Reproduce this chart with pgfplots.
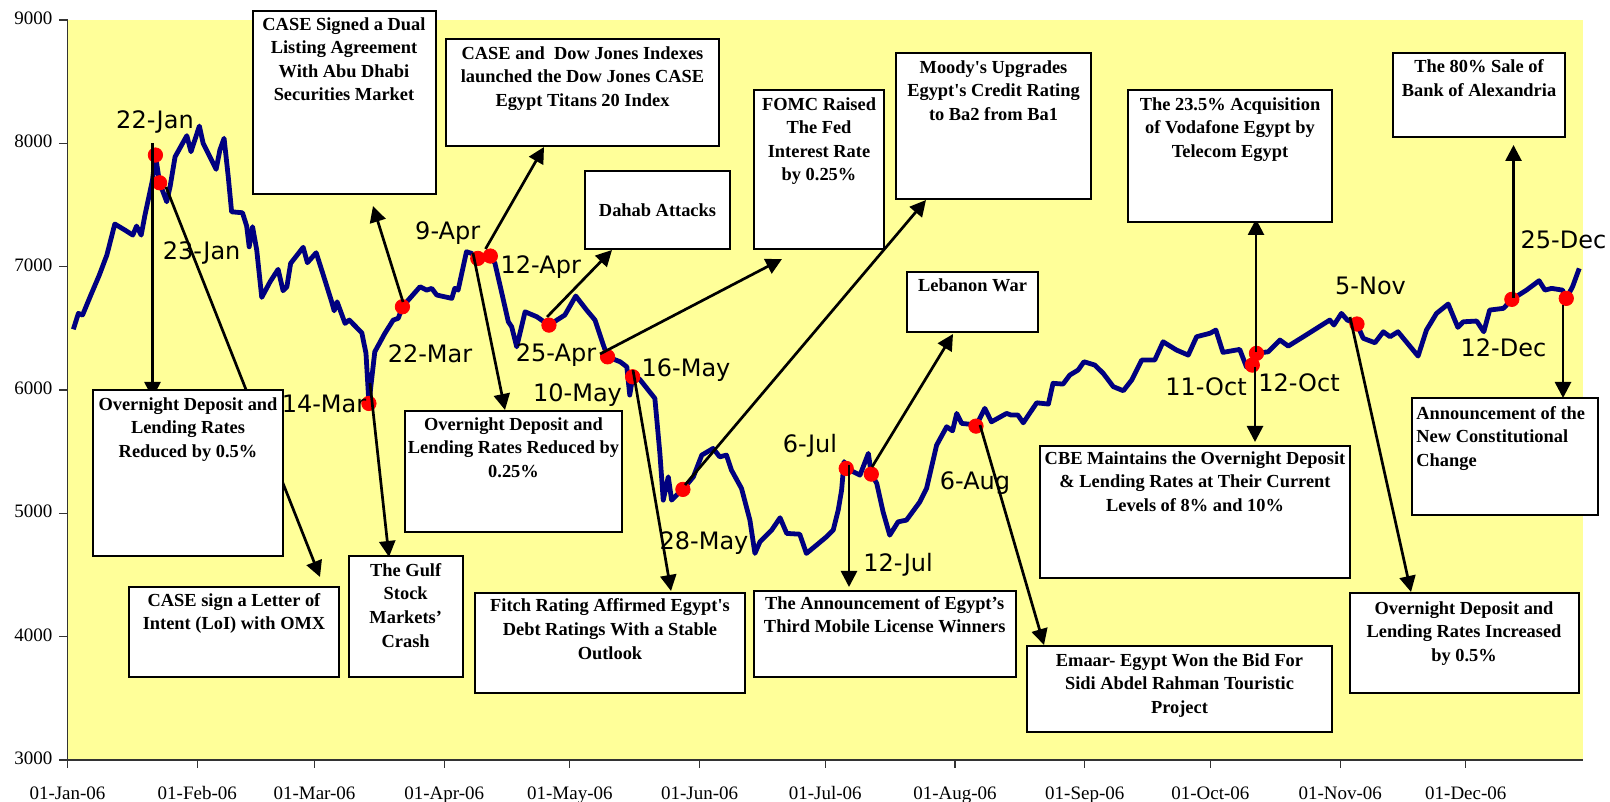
\documentclass[border=0pt]{standalone}
\usepackage{fontspec}
\setmainfont{Liberation Serif}
\newfontfamily\lblfont{DejaVu Sans}
\usepackage{pgfplots}
\pgfplotsset{compat=1.18}
\usetikzlibrary{arrows.meta}
\definecolor{chartbg}{HTML}{FFFF99}
\definecolor{navyline}{HTML}{000080}
\newcommand{\q}{\textquotesingle}

\begin{document}
\begin{tikzpicture}[
  ev/.style={-{Triangle[length=8pt,width=8pt]}, line width=1.35pt},
  box/.style={draw=black, line width=1pt, fill=white},
  btxt/.style={font=\fontsize{9.2}{11.8}\selectfont\bfseries, align=center, anchor=north, inner sep=0pt},
  dlab/.style={font=\lblfont\fontsize{12}{14}\selectfont, anchor=base, inner sep=0pt}
]
% x = days since 1 Jan 2006, y = index level
\begin{axis}[
  at={(33.75pt,21pt)}, anchor=south west,
  scale only axis, width=757.75pt, height=370pt,
  xmin=0, xmax=362, ymin=3000, ymax=9000,
  axis x line*=bottom, axis y line*=left,
  axis line style={-, line width=0.6pt, black!80},
  axis background/.style={fill=chartbg},
  xtick={0,31,59,90,120,151,181,212,243,273,304,334},
  xticklabels={01-Jan-06,01-Feb-06,01-Mar-06,01-Apr-06,01-May-06,01-Jun-06,01-Jul-06,01-Aug-06,01-Sep-06,01-Oct-06,01-Nov-06,01-Dec-06},
  ytick={3000,4000,5000,6000,7000,8000,9000},
  tick align=outside, major tick length=4pt,
  tick style={line width=0.6pt, black!80},
  ticklabel style={font=\fontsize{9.5}{11}\selectfont},
  typeset ticklabels with strut,
  xticklabel style={yshift=-4.7pt},
  /pgf/number format/assume math mode=true,
  /pgf/number format/1000 sep={},
]
\addplot[navyline, line width=2.4pt, line join=round] coordinates {
(1.4,6492) (2.6,6621) (3.6,6608) (5.4,6756) (7.6,6932) (9.4,7094) (11.3,7346)
(13.7,7297) (15.6,7256) (16.5,7329) (17.6,7256) (18.5,7418) (20.3,7702) (21,7905)
(22,7680) (23.7,7526) (24.5,7648) (25.7,7891) (28.5,8062) (29.5,7932) (31.5,8140)
(32.4,8000) (35.5,7789) (36.4,7946) (37.4,8041) (38.4,7729) (39.2,7445) (41.8,7437)
(42.8,7329) (43.4,7161) (44.2,7324) (45.2,7135) (46.4,6751) (48.4,6878) (50.3,6978)
(51.5,6805) (52.4,6837) (53.3,7027) (56.3,7157) (57.3,7032) (59.4,7113) (61.1,6932)
(63.1,6715) (63.7,6642) (64.4,6715) (66.3,6540) (67.3,6567) (70.3,6464) (71.3,6297)
(72,5891) (73.4,6310) (75.8,6459) (77.8,6567) (79,6581) (80,6675) (84.2,6837)
(85.8,6810) (87,6824) (88.2,6770) (91.8,6743) (92.5,6824) (93.3,6810) (95.3,7121)
(96.5,7108) (98,7067) (101,7086) (102.1,7027) (103.3,6851) (105.3,6553) (106.1,6513)
(107.3,6350) (109.3,6634) (112.1,6594) (115,6526) (118.8,6608) (121.4,6762) (124,6648)
(126,6567) (128,6364) (129,6269) (132,6229) (133.6,6188) (134.3,5959) (135,6107)
(136.7,6086) (140.3,5932) (141.5,5486) (142.3,5107) (143.5,5296) (144.3,5107) (145.9,5161)
(147,5194) (149.5,5296) (151.5,5472) (154.2,5526) (155.8,5458) (157.4,5472) (158.6,5350)
(161,5202) (163,4945) (164.2,4675) (165.4,4769) (168.2,4864) (170.2,4964) (171.8,4837)
(174.9,4831) (176.5,4675) (178.9,4742) (181.3,4810) (182.9,4864) (184.1,5026) (184.9,5188)
(185.5,5420) (186,5364) (187.7,5337) (189.3,5310) (191.3,5486) (192,5318) (193.3,5243)
(194.8,5013) (196.4,4823) (198.4,4931) (200.4,4945) (203.6,5093) (205.2,5202) (207.6,5553)
(210,5702) (211.4,5669) (212.4,5810) (213.6,5729) (216,5721) (217,5707) (219.1,5851)
(220.7,5742) (224.3,5810) (225.4,5797) (227,5797) (228.3,5734) (231.5,5896) (234.3,5886)
(235.4,6054) (237.8,6048) (239.4,6121) (241.4,6162) (242.8,6229) (245.4,6202) (247.4,6135)
(249.8,6027) (252.2,5994) (254.2,6081) (256.6,6243) (259.7,6243) (261.7,6391) (264.9,6324)
(267.7,6283) (269.7,6432) (272.9,6460) (274.3,6486) (276,6305) (280,6329) (281.6,6188)
(283,6202) (284,6297) (286.8,6310) (289.6,6405) (291.6,6356) (295.2,6432) (301.5,6567)
(302.5,6527) (304.3,6621) (305.7,6567) (308,6535) (309.5,6419) (312.3,6383) (314.3,6472)
(315.9,6432) (317.8,6472) (322.6,6275) (324.6,6486) (327,6621) (329.8,6697) (332.1,6508)
(333.4,6553) (336.6,6559) (338.3,6472) (339.7,6648) (343,6662) (345,6735) (348.5,6810)
(351.5,6886) (352.9,6810) (354.5,6824) (357.1,6810) (358,6743) (359.5,6837) (361.1,6986)
};
% event days
\addplot[only marks, mark=*, mark size=3.6pt, color=red] coordinates {
(21,7905) (22,7680) (72,5891) (80,6675) (98,7067) (101,7086) (115,6526)
(129,6269) (135,6107) (147,5194) (186,5364) (192,5318) (217,5707)
(283,6202) (284,6297) (308,6535) (345,6735) (358,6743)
};
\end{axis}

% annotations, in pixels of the 1610x802 picture
\begin{scope}[x=0.5pt, y=-0.5pt, shift={(0pt,401pt)}]
\draw[ev] (152.5,143) -- (152.5,398);
\draw[ev] (166,187) -- (320,577);
\draw[ev] (370,383) -- (389,557);
\draw[ev] (403,302) -- (373,206);
\draw[ev] (473,253) -- (505,410);
\draw[ev] (485.5,249) -- (544,147);
\draw[ev] (547,317) -- (612,250);
\draw[ev] (600,354) -- (782,259);
\draw[ev] (633,370) -- (671,591);
\draw[ev] (685,485) -- (926,200);
\draw[ev] (849,465) -- (849,587);
\draw[ev] (872,467) -- (953,334);
\draw[ev] (980,425) -- (1044,645);
\draw[ev] (1255,367) -- (1255,442);
\draw[ev] (1256,352) -- (1256,219);
\draw[ev] (1350,317) -- (1411,592);
\draw[ev] (1513.5,298) -- (1513.5,145);
\draw[ev] (1563,305) -- (1563,398);

\draw[box] (253,11) rectangle (435.5,194);
\node[btxt] at (344,17) {CASE Signed a Dual\\Listing Agreement\\With Abu Dhabi\\Securities Market};
\draw[box] (446,39.5) rectangle (719,146);
\node[btxt] at (582.5,46) {CASE and\ \ Dow Jones Indexes\\launched the Dow Jones CASE\\Egypt Titans 20 Index};
\draw[box] (585,171) rectangle (730,249);
\node[btxt] at (657.5,203) {Dahab Attacks};
\draw[box] (754,90) rectangle (884,249);
\node[btxt] at (819,97) {FOMC Raised\\The Fed\\Interest Rate\\by 0.25\%};
\draw[box] (896,53) rectangle (1091,199);
\node[btxt] at (993.5,60) {Moody\q s Upgrades\\Egypt\q s Credit Rating\\to Ba2 from Ba1};
\draw[box] (907,272) rectangle (1038,332);
\node[btxt] at (972.5,278.5) {Lebanon War};
\draw[box] (1128,90) rectangle (1332,222);
\node[btxt] at (1230,97) {The 23.5\% Acquisition\\of Vodafone Egypt by\\Telecom Egypt};
\draw[box] (1393,53) rectangle (1565,137);
\node[btxt] at (1479,59.5) {The 80\% Sale of\\Bank of Alexandria};
\draw[box] (93,390) rectangle (283,556);
\node[btxt] at (188,397) {Overnight Deposit and\\Lending Rates\\Reduced by 0.5\%};
\draw[box] (129,587) rectangle (339,677);
\node[btxt] at (234,593) {CASE sign a Letter of\\Intent (LoI) with OMX};
\draw[box] (349,556) rectangle (462.5,677);
\node[btxt] at (405.7,563) {The Gulf\\Stock\\Markets’\\Crash};
\draw[box] (405,411) rectangle (622,532);
\node[btxt] at (513.5,417) {Overnight Deposit and\\Lending Rates Reduced by\\0.25\%};
\draw[box] (474.5,593) rectangle (745,693);
\node[btxt] at (610,598.5) {Fitch Rating Affirmed Egypt\q s\\Debt Ratings With a Stable\\Outlook};
\draw[box] (754,591) rectangle (1015.5,677);
\node[btxt] at (884.7,596) {The Announcement of Egypt’s\\Third Mobile License Winners};
\draw[box] (1027,646) rectangle (1332,732);
\node[btxt] at (1179.5,653) {Emaar- Egypt Won the Bid For\\Sidi Abdel Rahman Touristic\\Project};
\draw[box] (1040,446) rectangle (1350,578);
\node[btxt] at (1195,451) {CBE Maintains the Overnight Deposit\\\& Lending Rates at Their Current\\Levels of 8\% and 10\%};
\draw[box] (1350,593) rectangle (1578.5,693);
\node[btxt] at (1464,601) {Overnight Deposit and\\Lending Rates Increased\\by 0.5\%};
\draw[box] (1412,398) rectangle (1597.5,515);
\node[btxt, align=left, anchor=north west] at (1416,406) {Announcement of the\\New Constitutional\\Change};

\node[dlab] at (155,128.3) {22-Jan};
\node[dlab] at (201.7,260) {23-Jan};
\node[dlab] at (324,413) {14-Mar};
\node[dlab] at (430,363) {22-Mar};
\node[dlab] at (447.7,240) {9-Apr};
\node[dlab] at (540.8,273.3) {12-Apr};
\node[dlab] at (556,361.7) {25-Apr};
\node[dlab] at (577.5,401.7) {10-May};
\node[dlab] at (686,376.7) {16-May};
\node[dlab] at (704,550) {28-May};
\node[dlab] at (810,453) {6-Jul};
\node[dlab] at (898,571.7) {12-Jul};
\node[dlab] at (975,490) {6-Aug};
\node[dlab] at (1206,396) {11-Oct};
\node[dlab] at (1299,391.7) {12-Oct};
\node[dlab] at (1370.5,295) {5-Nov};
\node[dlab] at (1503.5,356.7) {12-Dec};
\node[dlab] at (1563.5,248.3) {25-Dec};

\pgfresetboundingbox
\useasboundingbox (0,0) rectangle (1610,802);
\end{scope}
\end{tikzpicture}
\end{document}
